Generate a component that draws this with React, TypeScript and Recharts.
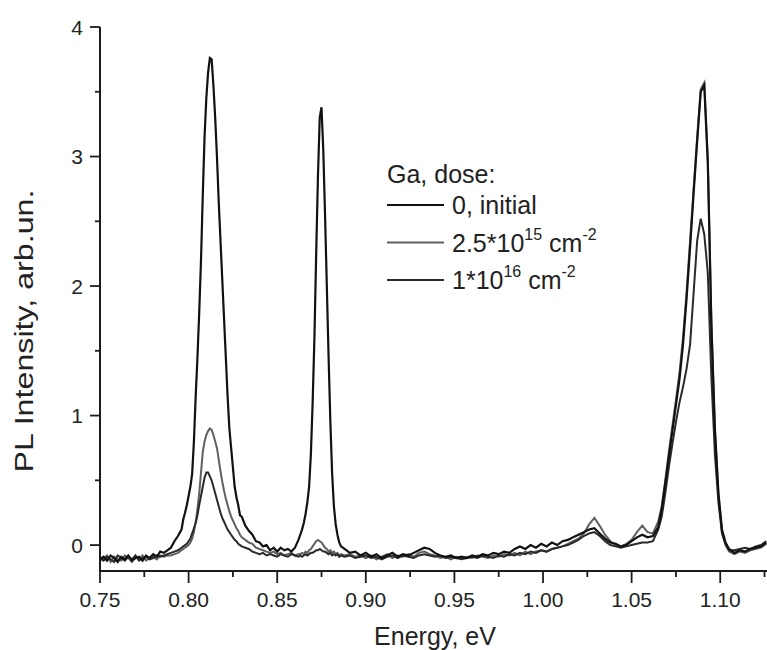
import React from 'react';
import { LineChart, Line, XAxis, YAxis, Legend } from 'recharts';

// Photon energy (eV)
const ENERGY = [
  0.75, 0.752, 0.754, 0.756, 0.758, 0.76, 0.762, 0.764, 0.766, 0.768, 0.77, 0.772, 0.774, 0.776, 0.778, 0.78, 0.782, 0.784, 0.786, 0.788, 0.79, 0.792, 0.794, 0.796,
  0.797, 0.798, 0.799, 0.8, 0.801, 0.802, 0.803, 0.804, 0.805, 0.806, 0.807, 0.808, 0.809, 0.81, 0.811, 0.812, 0.813, 0.814, 0.815, 0.816, 0.817, 0.818, 0.819, 0.82, 0.821, 0.822, 0.823, 0.824, 0.825, 0.826, 0.827, 0.828, 0.829, 0.83,
  0.832, 0.834, 0.836, 0.838, 0.84, 0.842, 0.844, 0.846, 0.848, 0.85, 0.852, 0.854, 0.856, 0.858, 0.86, 0.862,
  0.863, 0.864, 0.865, 0.866, 0.867, 0.868, 0.869, 0.87, 0.871, 0.872, 0.873, 0.874, 0.875, 0.876, 0.877, 0.878, 0.879, 0.88, 0.881, 0.882, 0.883, 0.884, 0.885, 0.886,
  0.888, 0.891, 0.894, 0.897, 0.9, 0.903, 0.906, 0.909, 0.912, 0.915,
  0.918, 0.921, 0.924, 0.927, 0.93, 0.933, 0.936, 0.939, 0.942, 0.945,
  0.948, 0.951, 0.954, 0.957, 0.96, 0.963, 0.966, 0.969, 0.972, 0.975,
  0.978, 0.981, 0.984, 0.987, 0.99, 0.993, 0.996, 0.999, 1.002, 1.005,
  1.008, 1.011, 1.014, 1.017, 1.02, 1.023, 1.026, 1.029, 1.032, 1.035,
  1.038, 1.041, 1.044, 1.047, 1.05, 1.053, 1.056, 1.059, 1.062, 1.065,
  1.067, 1.069, 1.071, 1.073, 1.075, 1.077, 1.079, 1.081, 1.083, 1.085, 1.087, 1.089, 1.091, 1.093, 1.095, 1.097, 1.099, 1.101, 1.103, 1.105,
  1.108, 1.111, 1.114, 1.117, 1.12, 1.123, 1.126,
];

// Ga dose 0 (initial)
const INITIAL = [
  -0.11, -0.09, -0.12, -0.08, -0.1, -0.13, -0.09, -0.11, -0.08, -0.12, -0.1, -0.09, -0.12, -0.08, -0.1, -0.07, -0.09, -0.05, -0.06, -0.04, -0.02, 0.03, 0.07, 0.12,
  0.2, 0.25, 0.31, 0.38, 0.45, 0.55, 0.8, 1.15, 1.45, 1.8, 2.2, 2.7, 3.15, 3.45, 3.65, 3.76, 3.75, 3.55, 3.3, 3.0, 2.65, 2.35, 2.05, 1.75, 1.45, 1.15, 0.9, 0.75, 0.6, 0.45, 0.37, 0.31, 0.23, 0.22,
  0.15, 0.11, 0.08, 0.03, 0.02, -0.01, 0.0, -0.04, -0.02, -0.05, -0.02, -0.04, -0.03, -0.05, -0.02, 0.04,
  0.08, 0.12, 0.17, 0.24, 0.33, 0.45, 0.7, 1.1, 1.6, 2.25, 2.85, 3.3, 3.38, 3.05, 2.55, 2.0, 1.45, 0.95, 0.55, 0.3, 0.16, 0.08, 0.02, -0.01,
  -0.03, -0.06, -0.05, -0.08, -0.06, -0.09, -0.07, -0.1, -0.08, -0.06,
  -0.09, -0.07, -0.08, -0.06, -0.04, -0.02, -0.03, -0.06, -0.08, -0.09,
  -0.08, -0.1, -0.09, -0.1, -0.08, -0.09, -0.07, -0.08, -0.06, -0.07,
  -0.05, -0.06, -0.03, -0.01, -0.03, 0.0, -0.02, 0.01, -0.01, 0.02,
  0.0, 0.03, 0.04, 0.06, 0.08, 0.1, 0.12, 0.13, 0.09, 0.05,
  0.02, 0.01, -0.01, 0.0, 0.03, 0.06, 0.08, 0.06, 0.07, 0.14,
  0.28, 0.48, 0.68, 0.88, 1.08, 1.28, 1.55, 1.9, 2.3, 2.72, 3.12, 3.5, 3.55, 2.95, 1.7, 0.9, 0.4, 0.12, 0.02, -0.03,
  -0.06, -0.04, -0.05, -0.03, -0.02, -0.01, 0.02,
];

// Ga dose 2.5*10^15 cm^-2
const DOSE_2_5E15 = [
  -0.12, -0.1, -0.08, -0.13, -0.09, -0.11, -0.12, -0.08, -0.1, -0.13, -0.09, -0.11, -0.08, -0.12, -0.1, -0.09, -0.11, -0.08, -0.09, -0.08, -0.08, -0.07, -0.06, -0.04,
  -0.03, -0.02, -0.01, 0.0, 0.02, 0.05, 0.1, 0.18, 0.28, 0.4, 0.56, 0.72, 0.8, 0.85, 0.88, 0.9, 0.89, 0.85, 0.8, 0.75, 0.66, 0.57, 0.49, 0.42, 0.36, 0.31, 0.26, 0.22, 0.19, 0.16, 0.13, 0.11, 0.08, 0.06,
  0.04, 0.02, 0.01, -0.02, -0.03, -0.04, -0.05, -0.06, -0.05, -0.07, -0.06, -0.08, -0.07, -0.06, -0.08, -0.07,
  -0.07, -0.06, -0.07, -0.05, -0.06, -0.04, -0.03, -0.01, 0.01, 0.03, 0.04, 0.03, 0.02, 0.0, -0.02, -0.03, -0.05, -0.04, -0.06, -0.05, -0.07, -0.06, -0.08, -0.07,
  -0.08, -0.07, -0.09, -0.08, -0.1, -0.08, -0.11, -0.09, -0.07, -0.1,
  -0.08, -0.09, -0.07, -0.09, -0.06, -0.05, -0.07, -0.08, -0.1, -0.09,
  -0.11, -0.09, -0.1, -0.09, -0.1, -0.08, -0.09, -0.1, -0.08, -0.09,
  -0.07, -0.08, -0.06, -0.08, -0.05, -0.07, -0.05, -0.04, -0.05, -0.03,
  -0.02, -0.01, 0.01, 0.03, 0.05, 0.09, 0.16, 0.21, 0.15, 0.08,
  0.03, 0.0, -0.01, 0.01, 0.04, 0.1, 0.15, 0.1, 0.09, 0.18,
  0.3, 0.5, 0.72, 0.92, 1.12, 1.33, 1.6, 1.95, 2.35, 2.75, 3.15, 3.52, 3.57, 2.98, 1.75, 0.88, 0.38, 0.1, 0.0, -0.05,
  -0.07, -0.05, -0.06, -0.04, -0.03, -0.02, 0.01,
];

// Ga dose 1*10^16 cm^-2
const DOSE_1E16 = [
  -0.1, -0.12, -0.09, -0.11, -0.13, -0.08, -0.1, -0.12, -0.09, -0.11, -0.08, -0.12, -0.1, -0.09, -0.11, -0.1, -0.08, -0.09, -0.08, -0.07, -0.06, -0.05, -0.04, -0.02,
  -0.01, 0.0, 0.01, 0.03, 0.05, 0.09, 0.13, 0.17, 0.23, 0.31, 0.38, 0.45, 0.52, 0.56, 0.56, 0.53, 0.5, 0.45, 0.4, 0.35, 0.3, 0.25, 0.21, 0.18, 0.15, 0.12, 0.1, 0.08, 0.06, 0.04, 0.03, 0.01, 0.0, -0.01,
  -0.02, -0.03, -0.05, -0.06, -0.07, -0.06, -0.08, -0.07, -0.08, -0.09, -0.07, -0.08, -0.09, -0.07, -0.08, -0.09,
  -0.08, -0.09, -0.08, -0.07, -0.08, -0.07, -0.06, -0.06, -0.05, -0.04, -0.04, -0.03, -0.04, -0.05, -0.05, -0.06, -0.07, -0.06, -0.08, -0.07, -0.08, -0.07, -0.09, -0.08,
  -0.09, -0.08, -0.1, -0.09, -0.08, -0.1, -0.09, -0.11, -0.09, -0.08,
  -0.1, -0.08, -0.09, -0.1, -0.08, -0.07, -0.08, -0.09, -0.08, -0.1,
  -0.09, -0.1, -0.11, -0.1, -0.09, -0.1, -0.08, -0.09, -0.1, -0.08,
  -0.09, -0.07, -0.08, -0.06, -0.07, -0.05, -0.06, -0.04, -0.05, -0.03,
  -0.02, -0.01, 0.0, 0.02, 0.04, 0.07, 0.09, 0.1, 0.07, 0.03,
  0.0, -0.01, -0.02, -0.01, 0.0, 0.01, 0.02, 0.02, 0.03, 0.12,
  0.22, 0.4, 0.6, 0.78, 0.95, 1.1, 1.22, 1.36, 1.55, 1.95, 2.35, 2.52, 2.4, 2.1, 1.3, 0.7, 0.33, 0.09, 0.01, -0.04,
  -0.04, -0.03, -0.02, -0.03, -0.01, 0.0, 0.03,
];

const SERIES_NAMES = ['0, initial', '2.5*10^15 cm^-2', '1*10^16 cm^-2'];
const LEGEND_TITLE = 'Ga, dose:';
const X_MAJOR_TICKS = [0.75, 0.8, 0.85, 0.9, 0.95, 1.0, 1.05, 1.1];
const X_MINOR_TICKS = [0.775, 0.825, 0.875, 0.925, 0.975, 1.025, 1.075, 1.125];
const Y_MAJOR_TICKS = [0, 1, 2, 3, 4];
const Y_MINOR_TICKS = [0.5, 1.5, 2.5, 3.5];
const X_LABEL = 'Energy, eV';
const Y_LABEL = 'PL Intensity, arb.un.';

const FONT = '"Liberation Sans", Arial, Helvetica, sans-serif';
const INK = '#1c1c1c';

const data = ENERGY.map((e, i) => ({
  e,
  initial: INITIAL[i],
  d25: DOSE_2_5E15[i],
  d16: DOSE_1E16[i],
}));

const isIn = (arr: number[], v: number) => arr.some((t) => Math.abs(t - v) < 1e-6);

const XTick = (props: any) => {
  const { x, y, payload } = props;
  const v = payload.value;
  const major = isIn(X_MAJOR_TICKS, v);
  return (
    <g>
      <line x1={x} x2={x} y1={y} y2={y + (major ? 12 : 6)} stroke={INK} strokeWidth={1.8} />
      {major && (
        <text x={x} y={y + 36} textAnchor="middle" fontSize={21} fontFamily={FONT} fill="#222">
          {v.toFixed(2)}
        </text>
      )}
    </g>
  );
};

const YTick = (props: any) => {
  const { x, y, payload } = props;
  const v = payload.value;
  const major = isIn(Y_MAJOR_TICKS, v);
  return (
    <g>
      <line x1={x} x2={x - (major ? 10 : 5)} y1={y} y2={y} stroke={INK} strokeWidth={1.8} />
      {major && (
        <text x={x - 17} y={y} dy="0.36em" textAnchor="end" fontSize={21} fontFamily={FONT} fill="#222">
          {String(v)}
        </text>
      )}
    </g>
  );
};

const renderName = (name: string) => {
  const parts = name.split(/(\^\S+)/).filter((p) => p.length > 0);
  let shifted = false;
  return parts.map((p, i) => {
    if (p.startsWith('^')) {
      shifted = true;
      return (
        <tspan key={i} dy={-12} fontSize={16}>
          {p.slice(1)}
        </tspan>
      );
    }
    const dy = shifted ? 12 : 0;
    shifted = false;
    return (
      <tspan key={i} dy={dy}>
        {p}
      </tspan>
    );
  });
};

const LegendContent = (props: any) => {
  const payload = [...(props.payload || [])].sort(
    (a: any, b: any) => SERIES_NAMES.indexOf(a.value) - SERIES_NAMES.indexOf(b.value)
  );
  return (
    <svg width={380} height={150} style={{ display: 'block', overflow: 'visible' }}>
      <text x={7} y={33} fontSize={25} fontFamily={FONT} fill="#222">
        {LEGEND_TITLE}
      </text>
      {payload.map((entry: any, i: number) => {
        const cy = 55 + i * 37.5;
        return (
          <g key={i}>
            <line x1={7} x2={64} y1={cy} y2={cy} stroke={entry.color} strokeWidth={2} />
            <text x={72} y={cy + 9} fontSize={25} fontFamily={FONT} fill="#222" style={{ whiteSpace: 'pre' }}>
              {renderName(entry.value)}
            </text>
          </g>
        );
      })}
    </svg>
  );
};

const YLabel = () => (
  <text
    transform="translate(33,331) rotate(-90)"
    textAnchor="middle"
    fontSize={25}
    fontFamily={FONT}
    fill="#222"
    textLength={283}
    lengthAdjust="spacingAndGlyphs"
  >
    {Y_LABEL}
  </text>
);

const XLabel = () => (
  <text x={435} y={645} textAnchor="middle" fontSize={25} fontFamily={FONT} fill="#222">
    {X_LABEL}
  </text>
);

export default function App() {
  const xTicks = [...X_MAJOR_TICKS, ...X_MINOR_TICKS].sort((a, b) => a - b);
  const yTicks = [...Y_MAJOR_TICKS, ...Y_MINOR_TICKS].sort((a, b) => a - b);
  return (
    <div style={{ position: 'absolute', left: 0, top: 0, width: 767, height: 650, background: '#fff' }}>
      <LineChart width={767} height={650} data={data} margin={{ top: 27, right: 0, bottom: 29, left: 40 }}>
        <XAxis
          dataKey="e"
          type="number"
          domain={[0.75, 1.1264]}
          allowDataOverflow
          ticks={xTicks}
          interval={0}
          tick={(p: any) => <XTick {...p} />}
          tickLine={false}
          tickSize={0}
          tickMargin={0}
          height={50}
          axisLine={{ stroke: INK, strokeWidth: 2 }}
          label={{ content: () => <XLabel /> }}
        />
        <YAxis
          type="number"
          domain={[-0.2, 4]}
          allowDataOverflow
          ticks={yTicks}
          interval={0}
          tick={(p: any) => <YTick {...p} />}
          tickLine={false}
          tickSize={0}
          tickMargin={0}
          width={60}
          axisLine={{ stroke: INK, strokeWidth: 2 }}
          label={{ content: () => <YLabel /> }}
        />
        <Legend
          content={(p: any) => <LegendContent {...p} />}
          layout="horizontal"
          verticalAlign="middle"
          align="center"
          wrapperStyle={{ left: 380, top: 150, width: 380, height: 150 }}
        />
        <Line
          dataKey="d25"
          name={SERIES_NAMES[1]}
          stroke="#606060"
          strokeWidth={2}
          dot={false}
          type="linear"
          isAnimationActive={false}
        />
        <Line
          dataKey="d16"
          name={SERIES_NAMES[2]}
          stroke="#2a2a2a"
          strokeWidth={2}
          dot={false}
          type="linear"
          isAnimationActive={false}
        />
        <Line
          dataKey="initial"
          name={SERIES_NAMES[0]}
          stroke="#111"
          strokeWidth={2.2}
          dot={false}
          type="linear"
          isAnimationActive={false}
        />
      </LineChart>
    </div>
  );
}
